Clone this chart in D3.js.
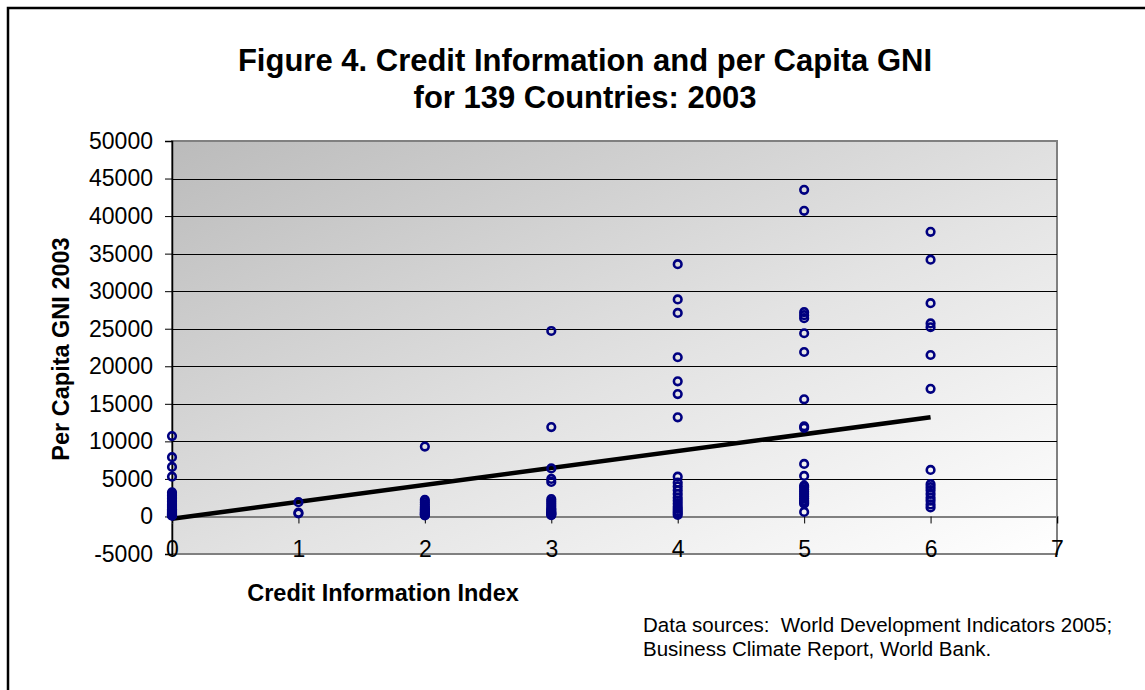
<!DOCTYPE html>
<html>
<head>
<meta charset="utf-8">
<script src="https://cdn.jsdelivr.net/npm/d3@7"></script>
<style>
  html, body { margin: 0; padding: 0; background: #ffffff; }
  svg { display: block; font-family: Arial, "Liberation Sans", sans-serif; }
</style>
</head>
<body>
<svg id="chart" width="1145" height="690"></svg>
<script>
// Credit information index (0-6) against per capita GNI 2003, one point per country
const idx0 = [10700, 7900, 6600, 5300, 3200, 3000, 2800, 2600, 2400, 2200, 2000, 1800, 1600, 1450, 1300, 1150, 1000, 900, 800, 700, 620, 550, 480, 420, 370, 320, 280, 240, 200, 170, 140, 110];
const idx1 = [1900, 500, 400];
const idx2 = [9300, 2200, 1900, 1600, 1300, 1100, 900, 750, 600, 500, 400, 300, 220, 150];
const idx3 = [24700, 11900, 6400, 5000, 4600, 2300, 2000, 1700, 1400, 1100, 900, 700, 550, 450, 350, 250, 180];
const idx4 = [33600, 28900, 27100, 21200, 18000, 16300, 13200, 5300, 4500, 4000, 3500, 3000, 2500, 2100, 1700, 1300, 1000, 700, 450, 200];
const idx5 = [43500, 40700, 27200, 26800, 26400, 24400, 21900, 15600, 12000, 11800, 7000, 5400, 4100, 3900, 3600, 3300, 3000, 2700, 2400, 2100, 1900, 1700, 600];
const idx6 = [37900, 34200, 28400, 25700, 25200, 21500, 17000, 6200, 4300, 3900, 3500, 3000, 2500, 2100, 1600, 1200];

const groups = [idx0, idx1, idx2, idx3, idx4, idx5, idx6];

// Linear trend line
const trendX = [0, 6];
const trendY = [-300, 13200];

const xTicks = [0, 1, 2, 3, 4, 5, 6, 7];
const yTicks = [-5000, 0, 5000, 10000, 15000, 20000, 25000, 30000, 35000, 40000, 45000, 50000];

const titleLines = ["Figure 4. Credit Information and per Capita GNI", "for 139 Countries: 2003"];
const xTitle = "Credit Information Index";
const yTitle = "Per Capita GNI 2003";
const sourceLines = ["Data sources:  World Development Indicators 2005;", "Business Climate Report, World Bank."];

const points = [];
groups.forEach((vals, i) => vals.forEach(v => points.push({ x: i, y: v })));

const svg = d3.select("#chart");

// outer frame (runs past the right and bottom edges)
svg.append("rect")
  .attr("x", 8).attr("y", 8)
  .attr("width", 1160).attr("height", 700)
  .attr("fill", "#ffffff")
  .attr("stroke", "#000").attr("stroke-width", 2.5);

const plot = { left: 172, top: 141, right: 1057, bottom: 554 };

const x = d3.scaleLinear().domain([0, 7]).range([plot.left, plot.right]);
const y = d3.scaleLinear().domain([-5000, 50000]).range([plot.bottom, plot.top]);

// plot area gradient
const defs = svg.append("defs");
const grad = defs.append("linearGradient")
  .attr("id", "bg").attr("x1", "0").attr("y1", "0").attr("x2", "1").attr("y2", "1");
grad.append("stop").attr("offset", "0%").attr("stop-color", "#bbbbbb");
grad.append("stop").attr("offset", "55%").attr("stop-color", "#e3e3e3");
grad.append("stop").attr("offset", "100%").attr("stop-color", "#ffffff");

svg.append("rect")
  .attr("x", plot.left).attr("y", plot.top)
  .attr("width", plot.right - plot.left).attr("height", plot.bottom - plot.top)
  .attr("fill", "url(#bg)")
  .attr("stroke", "#808080").attr("stroke-width", 2);

// horizontal gridlines
svg.append("g")
  .selectAll("line")
  .data(yTicks.filter(t => t > -5000 && t < 50000))
  .join("line")
  .attr("x1", plot.left).attr("x2", plot.right)
  .attr("y1", d => Math.round(y(d)) + 0.5).attr("y2", d => Math.round(y(d)) + 0.5)
  .attr("stroke", "#000").attr("stroke-width", 1);

// y axis at x = 0
const yAxis = d3.axisLeft(y).tickValues(yTicks).tickSize(7).tickPadding(12).tickFormat(d => String(d));
const gy = svg.append("g").attr("transform", `translate(${plot.left},0)`).call(yAxis);
gy.select(".domain").attr("stroke", "#000").attr("stroke-width", 1.5);
gy.selectAll(".tick line").attr("stroke", "#000");
gy.selectAll("text").attr("font-size", 23).attr("fill", "#000")
  .attr("font-family", "Arial, 'Liberation Sans', sans-serif");

// x axis at y = 0, labels set near the bottom of the plot
const xAxis = d3.axisBottom(x).tickValues(xTicks).tickSize(7).tickFormat(d => String(d));
const gx = svg.append("g").attr("transform", `translate(0,${y(0)})`).call(xAxis);
gx.select(".domain").attr("stroke", "#808080").attr("stroke-width", 2);
gx.selectAll(".tick line").attr("stroke", "#000");
gx.selectAll("text")
  .attr("y", plot.bottom - y(0) - 3)
  .attr("dy", null)
  .attr("dominant-baseline", "middle")
  .attr("font-size", 23).attr("fill", "#000")
  .attr("font-family", "Arial, 'Liberation Sans', sans-serif");

// trend line
svg.append("line")
  .attr("x1", x(trendX[0])).attr("y1", y(trendY[0]))
  .attr("x2", x(trendX[1])).attr("y2", y(trendY[1]))
  .attr("stroke", "#000").attr("stroke-width", 4.5);

// country markers
svg.append("g")
  .selectAll("circle")
  .data(points)
  .join("circle")
  .attr("cx", d => x(d.x))
  .attr("cy", d => y(d.y))
  .attr("r", 3.8)
  .attr("fill", "none")
  .attr("stroke", "#000080")
  .attr("stroke-width", 2.6);

// title
svg.append("text")
  .attr("text-anchor", "middle")
  .attr("font-size", 31).attr("font-weight", "bold")
  .selectAll("tspan").data(titleLines).join("tspan")
  .attr("x", 585).attr("y", (d, i) => 71 + i * 37)
  .text(d => d);

// axis titles
svg.append("text")
  .attr("x", 383).attr("y", 601)
  .attr("text-anchor", "middle")
  .attr("font-size", 23.5).attr("font-weight", "bold")
  .text(xTitle);

svg.append("text")
  .attr("transform", "translate(69,349) rotate(-90)")
  .attr("text-anchor", "middle")
  .attr("font-size", 23.5).attr("font-weight", "bold")
  .text(yTitle);

// sources note
svg.append("g")
  .selectAll("text")
  .data(sourceLines)
  .join("text")
  .attr("x", 643).attr("y", (d, i) => 632 + i * 24)
  .attr("font-size", 20.5)
  .style("white-space", "pre")
  .text(d => d);
</script>
</body>
</html>
